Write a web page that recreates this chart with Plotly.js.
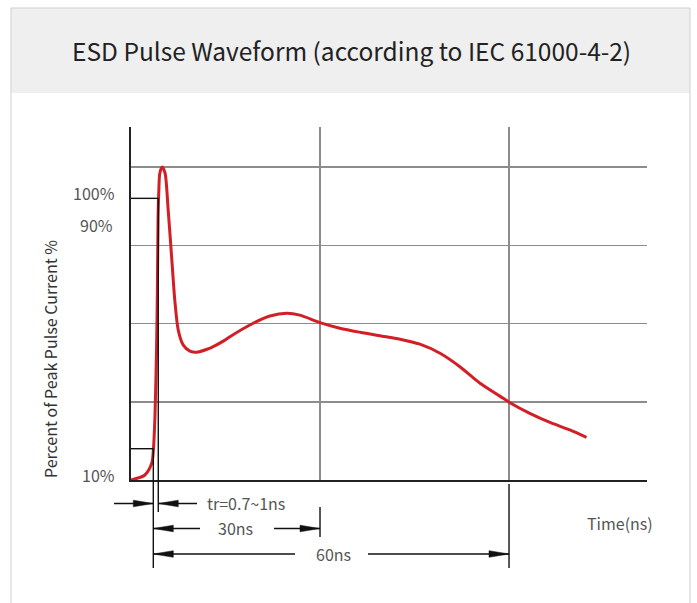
<!DOCTYPE html>
<html>
<head>
<meta charset="utf-8">
<script src="https://cdn.plot.ly/plotly-3.0.1.min.js"></script>
<style>html,body{margin:0;padding:0;background:#fff;}#chart{width:697px;height:603px;}</style>
</head>
<body>
<div id="chart"></div>
<script>
// ---- data ----
const timeNs = [0, 2.2, 3.3, 3.55, 3.8, 4.05, 4.2, 4.3, 4.42, 4.58, 4.95, 5.4, 5.9, 6.45, 6.95, 7.5, 8.3, 9.35, 10.4, 12.25, 13.05, 14.9, 15.7, 19.4, 22.05, 24.7, 26.8, 30.0, 33.15, 36.35, 39.5, 42.7, 45.85, 49.05, 52.2, 55.4, 58.55, 60.15, 63.3, 66.5, 69.65, 72.3];
const currentPct = [0, 1.6, 5.4, 9.6, 20.1, 41.5, 62.9, 84.0, 92.7, 98.1, 100.0, 98.1, 86.3, 71.2, 57.5, 47.9, 43.1, 41.2, 40.8, 41.9, 42.6, 44.7, 45.8, 50.1, 52.4, 53.3, 52.7, 50.3, 48.5, 47.2, 46.1, 45.0, 43.4, 40.5, 36.2, 30.9, 26.8, 24.7, 21.3, 18.4, 16.0, 13.6];
const xGridVals = [30, 60];
const yGridVals = [25, 50, 75, 100];
const levelLabels = ['100%', '90%', '10%'];
const riseStart = 3.54, riseEnd = 4.33;   // 10% and 90% crossing times
const level10 = 10, level90 = 90;
const dimLabels = ['tr=0.7~1ns', '30ns', '60ns'];
const titleText = 'ESD Pulse Waveform (according to IEC 61000-4-2)';
const yTitle = 'Percent of Peak Pulse Current %';
const xTitle = 'Time(ns)';

// ---- layout geometry ----
const W = 697, H = 603;
const M = {l: 131, r: 50, t: 127, b: 123};
const plotW = W - M.l - M.r, plotH = H - M.t - M.b;
const xRange = [0, 81.9], yRange = [0, 112.8];
const fx = px => (px - M.l) / plotW;          // pixel -> paper x
const fy = py => (H - M.b - py) / plotH;      // pixel -> paper y
const dx = v => M.l + (v - xRange[0]) / (xRange[1] - xRange[0]) * plotW; // data -> pixel
const dy = v => H - M.b - (v - yRange[0]) / (yRange[1] - yRange[0]) * plotH;

const FONT = '"Noto Sans CJK SC", "Noto Sans", sans-serif';
const shapes = [];
const annotations = [];

// card & title band
shapes.push({type: 'rect', xref: 'paper', yref: 'paper', layer: 'below',
  x0: fx(11), x1: fx(690), y0: fy(8), y1: fy(93), fillcolor: '#efefef', line: {width: 0}});
shapes.push({type: 'rect', xref: 'paper', yref: 'paper', layer: 'below',
  x0: fx(11), x1: fx(690), y0: fy(8), y1: fy(640), fillcolor: 'rgba(0,0,0,0)', line: {color: '#cfcfcf', width: 1}});

function line(x0, y0, x1, y1, w) {
  shapes.push({type: 'line', xref: 'paper', yref: 'paper', layer: 'above',
    x0: fx(x0), y0: fy(y0), x1: fx(x1), y1: fy(y1), line: {color: '#111', width: w || 1.4}});
}
function tri(tipX, y, dir) { // dir=+1 points right, -1 points left
  const baseX = tipX - dir * 20, h = 3.3;
  const p = 'M ' + fx(tipX) + ' ' + fy(y) + ' L ' + fx(baseX) + ' ' + fy(y - h) + ' L ' + fx(baseX) + ' ' + fy(y + h) + ' Z';
  shapes.push({type: 'path', xref: 'paper', yref: 'paper', layer: 'above', path: p,
    fillcolor: '#111', line: {color: '#111', width: 0.5}});
}

const xs = dx(riseStart), xe = dx(riseEnd), x30 = dx(xGridVals[0]), x60 = dx(xGridVals[1]);
// level markers
line(dx(0), dy(level90), xe, dy(level90));
line(dx(0), dy(level10), xs, dy(level10));
line(xe, dy(level90), xe, 512);
line(xs, dy(level10), xs, 568);
line(x30, 507, x30, 537);
line(x60, 484, x60, 568);
// tr row
const yTr = 503.5, y30 = 528.5, y60 = 554;
line(114, yTr, xs, yTr); tri(xs, yTr, 1);
line(xe, yTr, 197, yTr); tri(xe, yTr, -1);
// 30ns row
line(xs, y30, 200, y30); tri(xs, y30, -1);
line(274, y30, x30, y30); tri(x30, y30, 1);
// 60ns row
line(xs, y60, 295, y60); tri(xs, y60, -1);
line(368, y60, x60, y60); tri(x60, y60, 1);

function text(t, px, py, opts) {
  annotations.push(Object.assign({text: t, xref: 'paper', yref: 'paper', x: fx(px), y: fy(py),
    showarrow: false, xanchor: 'center', yanchor: 'middle',
    font: {family: FONT, size: 16, color: '#555'}}, opts || {}));
}
text(titleText, 351, 50, {font: {family: FONT, size: 24.5, color: '#222'}});
text(levelLabels[0], 117, 192.5, {xanchor: 'right'});
text(levelLabels[1], 114.5, 225, {xanchor: 'right'});
text(levelLabels[2], 116.5, 475, {xanchor: 'right'});
text(yTitle, 50, 359, {textangle: -90, font: {family: FONT, size: 16, color: '#333'}});
text(xTitle, 620, 523);
text(dimLabels[0], 246, 503);
text(dimLabels[1], 235, 528);
text(dimLabels[2], 333, 554);

const trace = {x: timeNs, y: currentPct, type: 'scatter', mode: 'lines',
  line: {color: '#d21f26', width: 3, shape: 'spline', smoothing: 0.8}, hoverinfo: 'x+y'};

const layout = {
  width: W, height: H, margin: M, showlegend: false,
  paper_bgcolor: '#fff', plot_bgcolor: '#fff',
  xaxis: {range: xRange, tickvals: xGridVals, showticklabels: false, ticks: '',
    showgrid: true, gridcolor: '#8c8c8c', gridwidth: 1.5, zeroline: false,
    showline: true, linecolor: '#222', linewidth: 2, fixedrange: true},
  yaxis: {range: yRange, tickvals: yGridVals, showticklabels: false, ticks: '',
    showgrid: true, gridcolor: '#8c8c8c', gridwidth: 1.5, zeroline: false,
    showline: true, linecolor: '#222', linewidth: 2, fixedrange: true},
  shapes: shapes, annotations: annotations
};
Plotly.newPlot('chart', [trace], layout, {displayModeBar: false, staticPlot: true});
</script>
</body>
</html>
